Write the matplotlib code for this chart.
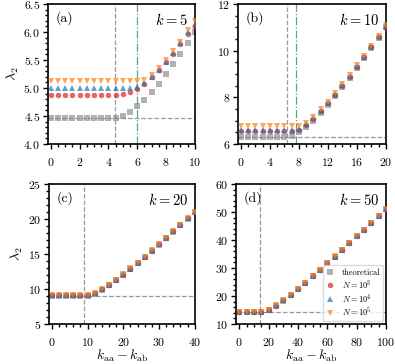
"""
Second-largest eigenvalue lambda_2 against k_aa - k_ab for four mean degrees k,
comparing the theoretical curve with simulations at N = 10^3, 10^4, 10^5.
"""

import matplotlib
matplotlib.use("Agg")
import matplotlib.pyplot as plt
from matplotlib.ticker import AutoMinorLocator, MultipleLocator

plt.rcParams["font.family"] = "cmr10"
plt.rcParams["mathtext.fontset"] = "cm"
plt.rcParams["axes.formatter.use_mathtext"] = True

# ---- data ----
# (a) k = 5
x_a = [0, 0.5, 1, 1.5, 2, 2.5, 3, 3.5, 4, 4.5, 5, 5.5, 6, 6.5, 7, 7.5, 8, 8.5, 9, 9.5, 10]
theo_a = [4.47] * 10 + [4.50, 4.57, 4.67, 4.79, 4.93, 5.08, 5.25, 5.43, 5.61, 5.80, 6.00]
n3_a = [4.88] * 10 + [4.89, 4.92, 4.98, 5.07, 5.19, 5.32, 5.46, 5.61, 5.79, 5.96, 6.09]
n4_a = [5.00] * 12 + [5.02, 5.09, 5.19, 5.33, 5.47, 5.63, 5.80, 6.00, 6.14]
n5_a = [5.12] * 13 + [5.14, 5.23, 5.36, 5.50, 5.66, 5.83, 6.03, 6.20]

# (b) k = 10
x_b = list(range(0, 21))
theo_b = [6.32] * 7 + [6.36, 6.50, 6.72, 7.00, 7.32, 7.67, 8.04, 8.43, 8.83,
                       9.25, 9.68, 10.11, 10.55, 11.00]
n3_b = [6.54] * 7 + [6.55, 6.62, 6.82, 7.08, 7.40, 7.74, 8.10, 8.49, 8.88,
                     9.30, 9.72, 10.14, 10.57, 10.98]
n4_b = [6.60] * 8 + [6.66, 6.85, 7.12, 7.43, 7.77, 8.13, 8.52, 8.92,
                     9.33, 9.75, 10.18, 10.61, 11.04]
n5_b = [6.75] * 8 + [6.77, 6.92, 7.17, 7.48, 7.82, 8.18, 8.56, 8.96,
                     9.37, 9.79, 10.22, 10.65, 11.08]

# (c) k = 20
x_c = list(range(0, 41, 2))
theo_c = [8.94] * 5 + [9.00, 9.33, 9.86, 10.50, 11.22, 12.00, 12.82, 13.67, 14.54,
                       15.43, 16.33, 17.25, 18.18, 19.11, 20.05, 21.00]
n3_c = [9.08] * 5 + [9.10, 9.42, 9.94, 10.58, 11.30, 12.07, 12.89, 13.73, 14.60,
                     15.49, 16.39, 17.30, 18.23, 19.16, 20.09, 21.03]
n4_c = [9.10] * 5 + [9.12, 9.44, 9.96, 10.60, 11.32, 12.09, 12.91, 13.75, 14.62,
                     15.51, 16.41, 17.32, 18.25, 19.18, 20.11, 21.05]
n5_c = [9.12] * 5 + [9.14, 9.46, 9.98, 10.62, 11.34, 12.11, 12.93, 13.77, 14.64,
                     15.53, 16.43, 17.34, 18.27, 19.20, 20.13, 21.07]

# (d) k = 50
x_d = list(range(0, 101, 5))
theo_d = [14.14] * 3 + [14.17, 15.00, 16.50, 18.33, 20.36, 22.50, 24.72, 27.00, 29.32,
                        31.67, 34.04, 36.43, 38.83, 41.25, 43.68, 46.11, 48.55, 51.00]
n3_d = [14.20] * 3 + [14.25, 15.10, 16.60, 18.42, 20.44, 22.57, 24.78, 27.06, 29.37,
                      31.72, 34.08, 36.47, 38.87, 41.29, 43.71, 46.14, 48.58, 51.03]
n4_d = [14.22] * 3 + [14.27, 15.12, 16.62, 18.44, 20.46, 22.59, 24.80, 27.08, 29.39,
                      31.74, 34.10, 36.49, 38.89, 41.31, 43.73, 46.16, 48.60, 51.05]
n5_d = [14.24] * 3 + [14.29, 15.14, 16.64, 18.46, 20.48, 22.61, 24.82, 27.10, 29.41,
                      31.76, 34.12, 36.51, 38.91, 41.33, 43.75, 46.18, 48.62, 51.07]

panels = [
    dict(tag="(a)", k=5, x=x_a, theo=theo_a, n3=n3_a, n4=n4_a, n5=n5_a,
         flat=4.47, green=6.0, xlim=(-0.2, 10), ylim=(4.0, 6.5), xmaj=2, ymaj=0.5,
         rect=[0.1215, 0.6044, 0.3715, 0.3846], ylab=True, xlab=False),
    dict(tag="(b)", k=10, x=x_b, theo=theo_b, n3=n3_b, n4=n4_b, n5=n5_b,
         flat=6.32, green=7.6, xlim=(-0.4, 20), ylim=(6, 12), xmaj=4, ymaj=2,
         rect=[0.6025, 0.6044, 0.3747, 0.3846], ylab=False, xlab=False),
    dict(tag="(c)", k=20, x=x_c, theo=theo_c, n3=n3_c, n4=n4_c, n5=n5_c,
         flat=8.94, green=None, xlim=(-0.8, 40), ylim=(5, 25), xmaj=10, ymaj=5,
         rect=[0.124, 0.1099, 0.369, 0.3846], ylab=True, xlab=True),
    dict(tag="(d)", k=50, x=x_d, theo=theo_d, n3=n3_d, n4=n4_d, n5=n5_d,
         flat=14.14, green=None, xlim=(-2.2, 100), ylim=(10, 60), xmaj=20, ymaj=10,
         rect=[0.5975, 0.1099, 0.3797, 0.3846], ylab=False, xlab=True),
]

fig = plt.figure(figsize=(3.95, 3.64), dpi=100)

for p in panels:
    ax = fig.add_axes(p["rect"])
    ax.axhline(p["flat"], color="gray", ls="--", lw=0.9, alpha=0.8, zorder=1)
    ax.axvline(p["flat"], color="gray", ls="--", lw=0.9, alpha=0.8, zorder=1)
    if p["green"] is not None:
        ax.axvline(p["green"], color="#4f9a6a", ls="-.", lw=0.9, alpha=0.9, zorder=1)

    ax.plot(p["x"], p["theo"], "s", color="gray", alpha=0.6, ms=4.0, mew=0,
            label="theoretical", zorder=2)
    ax.plot(p["x"], p["n3"], "o", color="tab:red", alpha=0.7, ms=4.0, mew=0,
            label=r"$N=10^3$", zorder=3)
    ax.plot(p["x"], p["n4"], "^", color="tab:blue", alpha=0.7, ms=4.0, mew=0,
            label=r"$N=10^4$", zorder=4)
    ax.plot(p["x"], p["n5"], "v", color="tab:orange", alpha=0.7, ms=4.0, mew=0,
            label=r"$N=10^5$", zorder=5)

    ax.set_xlim(*p["xlim"])
    ax.set_ylim(*p["ylim"])
    ax.xaxis.set_major_locator(MultipleLocator(p["xmaj"]))
    ax.yaxis.set_major_locator(MultipleLocator(p["ymaj"]))
    ax.xaxis.set_minor_locator(AutoMinorLocator())
    ax.yaxis.set_minor_locator(AutoMinorLocator())
    ax.tick_params(which="both", direction="out", labelsize=8.5, width=1.0)
    ax.tick_params(which="major", length=3.8)
    ax.tick_params(which="minor", length=2.2)
    ax.tick_params(axis="x", which="major", pad=5)
    ax.tick_params(axis="y", which="major", pad=2)
    for s in ax.spines.values():
        s.set_linewidth(1.2)

    ax.text(0.05, 0.945, p["tag"], transform=ax.transAxes, fontsize=10,
            ha="left", va="top")
    ax.text(0.955, 0.945, rf"$k={p['k']}$", transform=ax.transAxes, fontsize=10.5,
            ha="right", va="top")
    if p["ylab"]:
        ax.set_ylabel(r"$\lambda_2$", fontsize=10, labelpad=1.5)
    if p["xlab"]:
        ax.set_xlabel(r"$k_{\mathrm{aa}}-k_{\mathrm{ab}}$", fontsize=10)
        ax.xaxis.set_label_coords(0.5, -0.17)
    if p["tag"] == "(d)":
        ax.legend(loc="lower right", fontsize=6, handlelength=0.8,
                  handletextpad=1.0, borderpad=0.4, labelspacing=0.12,
                  borderaxespad=0.3, framealpha=0.8, edgecolor="lightgray")

fig.savefig("out.png", dpi=100)
